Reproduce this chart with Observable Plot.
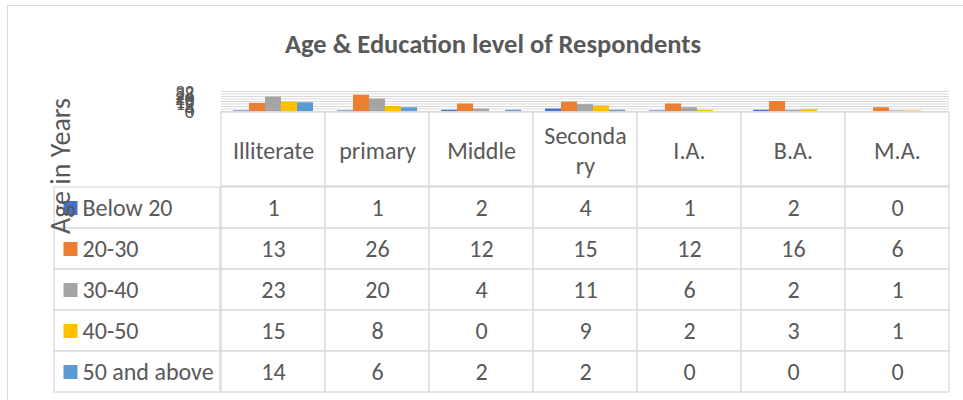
<!DOCTYPE html>
<html>
<head>
<meta charset="utf-8">
<script src="https://cdn.jsdelivr.net/npm/d3@7"></script>
<script src="https://cdn.jsdelivr.net/npm/@observablehq/plot@0.6"></script>
<style>
  html, body { margin: 0; padding: 0; background: #fff; }
  #root { position: relative; width: 963px; height: 400px; overflow: hidden; background: #fff;
          font-family: Calibri, Carlito, "Open Sans", sans-serif; }
  .abs { position: absolute; }
  #border { left: 7px; top: 5px; width: 980px; height: 420px; border: 1.5px solid #d9d9d9; box-sizing: border-box; }
  #title { left: 0; width: 986px; top: 28px; line-height: 32px; text-align: center; font-weight: bold; font-size: 26.5px; color: #595959; }
  #ytitle { left: 60px; top: 166px; width: 0; height: 0; }
  #ytitle span { position: absolute; transform: translate(-50%, -50%) rotate(-90deg); white-space: nowrap; font-size: 28px; color: #595959; }
  svg { overflow: visible; }
</style>
</head>
<body>
<div id="root">
  <div id="border" class="abs"></div>
  <div id="title" class="abs">Age &amp; Education level of Respondents</div>
</div>
<script>
// ---- data ----
const categories = ["Illiterate", "primary", "Middle", "Secondary", "I.A.", "B.A.", "M.A."];
const categoryLabels = ["Illiterate", "primary", "Middle", "Seconda\nry", "I.A.", "B.A.", "M.A."];
const series = ["Below 20", "20-30", "30-40", "40-50", "50 and above"];
const below20 = [1, 1, 2, 4, 1, 2, 0];
const age20to30 = [13, 26, 12, 15, 12, 16, 6];
const age30to40 = [23, 20, 4, 11, 6, 2, 1];
const age40to50 = [15, 8, 0, 9, 2, 3, 1];
const age50up = [14, 6, 2, 2, 0, 0, 0];
const yTicks = [0, 4, 8, 12, 16, 20, 24, 28, 32];
const colors = ["#4472C4", "#ED7D31", "#A5A5A5", "#FFC000", "#5B9BD5"];

const seriesValues = [below20, age20to30, age30to40, age40to50, age50up];
const rows = [];
categories.forEach((c, i) => series.forEach((s, j) => rows.push({cat: c, series: s, value: seriesValues[j][i]})));

const FONT = 'Calibri, Carlito, "Open Sans", sans-serif';
const TXT = "#595959";
const GRID = "#d9d9d9";
const FS = 24;
const root = document.getElementById("root");
function place(el, left, top) {
  el.classList.add("abs");
  el.style.left = left + "px";
  el.style.top = top + "px";
  root.appendChild(el);
}

// ---- bars ----
const bars = Plot.plot({
  width: 963, height: 112,
  marginTop: 91, marginBottom: 1, marginLeft: 220, marginRight: 14,
  style: {fontFamily: FONT, background: "transparent"},
  fx: {domain: categories, padding: 0, axis: null},
  x: {domain: series, paddingInner: 0, paddingOuter: 0.75, axis: null},
  y: {domain: [0, 32], axis: null},
  color: {domain: series, range: colors},
  marks: [
    Plot.gridY(yTicks, {stroke: GRID, strokeOpacity: 1, strokeWidth: 1}),
    Plot.axisY(yTicks, {tickSize: 0, tickPadding: 27, fontSize: 19, fill: TXT, label: null}),
    Plot.barY(rows, {fx: "cat", x: "series", y: "value", fill: "series"})
  ]
});
place(bars, 0, 0);

// ---- header row ----
const header = Plot.plot({
  width: 732, height: 76,
  margin: 1,
  style: {fontFamily: FONT, background: "transparent"},
  x: {domain: categories, padding: 0, axis: null},
  marks: [
    Plot.cell(categories, {x: d => d, fill: "white", stroke: GRID, strokeWidth: 1.3}),
    Plot.text(categories, {x: d => d, text: (d, i) => categoryLabels[i], fontSize: FS, fill: TXT, lineHeight: 1.25})
  ]
});
place(header, 219, 111);

// ---- table body ----
const body = Plot.plot({
  width: 732, height: 208,
  margin: 1,
  style: {fontFamily: FONT, background: "transparent"},
  x: {domain: categories, padding: 0, axis: null},
  y: {domain: series, padding: 0, axis: null},
  marks: [
    Plot.cell(rows, {x: "cat", y: "series", fill: "white", stroke: GRID, strokeWidth: 1.3}),
    Plot.text(rows, {x: "cat", y: "series", text: "value", fontSize: FS, fill: TXT})
  ]
});
place(body, 219, 185);

// ---- legend column ----
const legend = Plot.plot({
  width: 168, height: 208,
  margin: 1,
  style: {fontFamily: FONT, background: "transparent"},
  x: {domain: ["legend"], padding: 0, axis: null},
  y: {domain: series, padding: 0, axis: null},
  color: {domain: series, range: colors},
  marks: [
    Plot.cell(series, {x: () => "legend", y: d => d, fill: "white", stroke: GRID, strokeWidth: 1.3}),
    Plot.dot(series, {y: d => d, frameAnchor: "left", dx: 16, symbol: "square", r: 7.9, fill: d => d, stroke: null}),
    Plot.text(series, {y: d => d, text: d => d, frameAnchor: "left", dx: 28, textAnchor: "start", fontSize: FS, fill: TXT})
  ]
});
place(legend, 53, 185);

// ---- y axis title ----
const yt = document.createElement("div");
yt.id = "ytitle";
yt.innerHTML = "<span>Age in Years</span>";
place(yt, 60, 166);
</script>
</body>
</html>
